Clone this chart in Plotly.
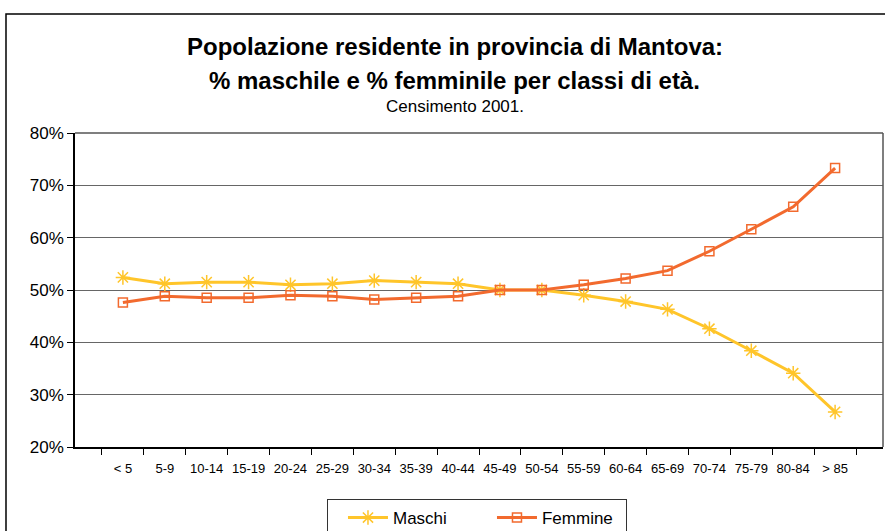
import plotly.graph_objects as go

classi = ["< 5", "5-9", "10-14", "15-19", "20-24", "25-29", "30-34", "35-39", "40-44",
          "45-49", "50-54", "55-59", "60-64", "65-69", "70-74", "75-79", "80-84", "> 85"]
maschi = [52.4, 51.2, 51.5, 51.5, 51.0, 51.2, 51.8, 51.5, 51.2,
          50.0, 50.0, 49.0, 47.8, 46.3, 42.6, 38.4, 34.1, 26.7]
femmine = [47.6, 48.8, 48.5, 48.5, 49.0, 48.8, 48.2, 48.5, 48.8,
           50.0, 50.0, 51.0, 52.2, 53.7, 57.4, 61.6, 65.9, 73.3]

giallo = "#FFC52A"
arancio = "#F26A2E"

fig = go.Figure()
fig.add_trace(go.Scatter(x=classi, y=maschi, name="Maschi", mode="lines+markers",
                         line=dict(color=giallo, width=3),
                         marker=dict(symbol="asterisk-open", size=12,
                                     line=dict(color=giallo, width=1.5))))
fig.add_trace(go.Scatter(x=classi, y=femmine, name="Femmine", mode="lines+markers",
                         line=dict(color=arancio, width=3),
                         marker=dict(symbol="square-open", size=9, color=arancio,
                                     line=dict(color=arancio, width=1.5))))

fig.update_layout(
    width=885, height=531,
    margin=dict(l=75, r=2, t=133, b=84),
    paper_bgcolor="white", plot_bgcolor="white",
    font=dict(family="Liberation Sans, Arial", color="black"),
    showlegend=True,
    legend=dict(orientation="h", x=0.4975, xanchor="center",
                yref="container", y=0.0603, yanchor="top",
                bordercolor="#333333", borderwidth=1, font=dict(size=17),
                entrywidth=79, itemwidth=40, indentation=15),
)
fig.update_xaxes(showline=True, linecolor="black", linewidth=2, mirror=False,
                 ticks="outside", tickson="boundaries", ticklen=6, tickcolor="black",
                 ticklabelstandoff=8, tickangle=0,
                 tickfont=dict(size=13), showgrid=False, automargin=False)
fig.update_yaxes(range=[20, 80], dtick=10, ticksuffix="%",
                 showline=True, linecolor="black", linewidth=1.5,
                 ticks="outside", ticklen=6, tickcolor="black", tickfont=dict(size=17),
                 showgrid=True, gridcolor="#666666", gridwidth=1, zeroline=False,
                 automargin=False)

# bordo grigio in alto e a destra dell'area del grafico
fig.add_shape(type="line", xref="paper", yref="paper", x0=0, x1=1, y0=1, y1=1,
              line=dict(color="#555555", width=1.5))
fig.add_shape(type="line", xref="paper", yref="paper", x0=1, x1=1, y0=0, y1=1,
              line=dict(color="#555555", width=1.5))
# cornice esterna
fig.add_shape(type="rect", xref="paper", yref="paper", x0=-0.0854, x1=1.05, y0=-0.3, y1=1.379,
              line=dict(color="black", width=1.5))

fig.add_annotation(text="<b>Popolazione residente in provincia di Mantova:</b>", xref="paper", yref="paper",
                   x=0.47, y=1.277, xanchor="center", yanchor="middle", showarrow=False, font=dict(size=24))
fig.add_annotation(text="<b>% maschile e % femminile per classi di età.</b>", xref="paper", yref="paper",
                   x=0.47, y=1.166, xanchor="center", yanchor="middle", showarrow=False, font=dict(size=24))
fig.add_annotation(text="Censimento 2001.", xref="paper", yref="paper",
                   x=0.47, y=1.083, xanchor="center", yanchor="middle", showarrow=False, font=dict(size=17))

fig.write_html("out.html", config={"displayModeBar": False},
               post_script="document.body.style.margin='0px';")
